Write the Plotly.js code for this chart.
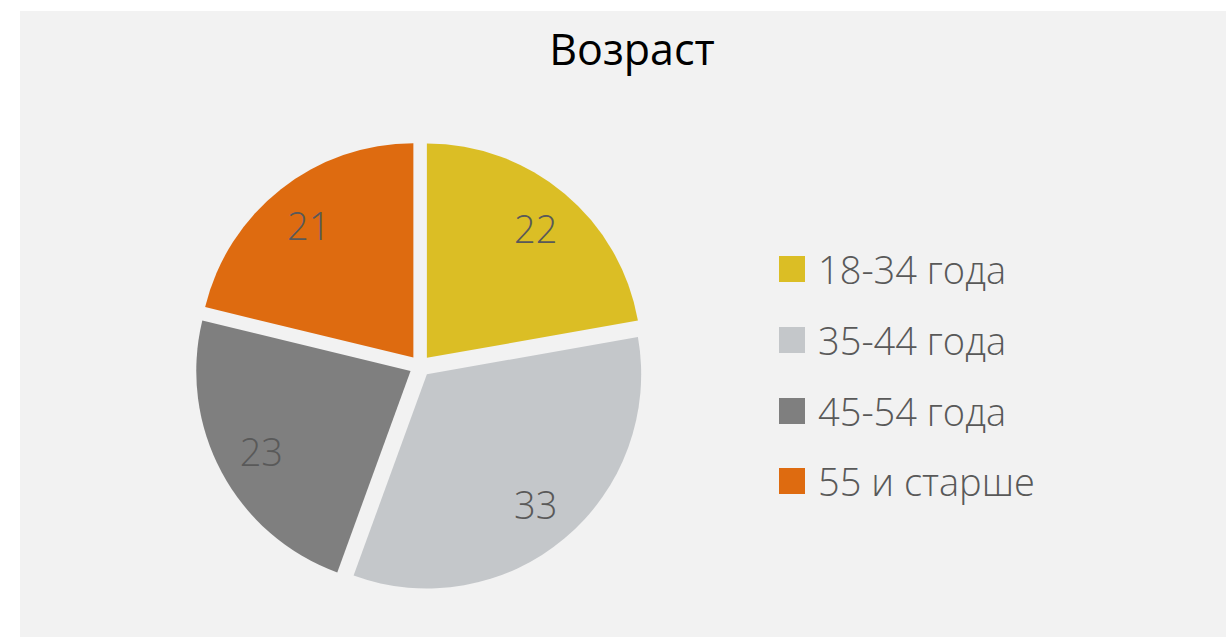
<!DOCTYPE html>
<html>
<head>
<meta charset="utf-8">
<script src="https://cdn.plot.ly/plotly-3.0.1.min.js"></script>
<style>
  html, body { margin: 0; padding: 0; background: #ffffff; width: 1226px; height: 637px; overflow: hidden; }
  #chart { position: absolute; left: 20px; top: 11px; width: 1206px; height: 626px; }
</style>
</head>
<body>
<div id="chart"></div>
<script>
const chartTitle = "Возраст";
const categories = ["18-34 года", "35-44 года", "45-54 года", "55 и старше"];
const values = [22, 33, 23, 21];
const colors = ["#dbbe25", "#c4c7ca", "#7f7f7f", "#de6b10"];

const W = 1206, H = 626;
const FONT = "'Open Sans', 'Liberation Sans', sans-serif";
const TEXT_COLOR = "#595959";

// pie geometry (pixels inside the chart div)
const cx = 400, cy = 355, halfSize = 225;

// manual legend geometry (pixels inside the chart div)
const legSqX0 = 759, legSqSize = 26, legTextX = 796;
const legRowY = [258, 329, 400, 470];

const px2x = p => p / W;
const px2y = p => 1 - p / H;

const shapes = [];
const annotations = [];
categories.forEach((c, i) => {
  shapes.push({
    type: "rect", xref: "paper", yref: "paper",
    x0: px2x(legSqX0), x1: px2x(legSqX0 + legSqSize),
    y0: px2y(legRowY[i] + legSqSize / 2), y1: px2y(legRowY[i] - legSqSize / 2),
    fillcolor: colors[i], line: { width: 0 }
  });
  annotations.push({
    xref: "paper", yref: "paper", x: px2x(legTextX), y: px2y(legRowY[i]),
    xanchor: "left", yanchor: "middle", showarrow: false,
    text: c, font: { family: FONT, size: 38, weight: 300, color: TEXT_COLOR }
  });
});

const domain = {
  x: [px2x(cx - halfSize), px2x(cx + halfSize)],
  y: [px2y(cy + halfSize), px2y(cy - halfSize)]
};

// visible slices
const pieTrace = {
  type: "pie",
  labels: categories,
  values: values,
  sort: false,
  direction: "clockwise",
  rotation: 0,
  pull: [0.05, 0.05, 0.05, 0.05],
  marker: { colors: colors, line: { width: 0 } },
  textinfo: "none",
  hoverinfo: "label+value",
  domain: domain,
  showlegend: false
};

// transparent ring carrying the value labels further out, as in the original
const labelTrace = {
  type: "pie",
  labels: categories,
  values: values,
  sort: false,
  direction: "clockwise",
  rotation: 0,
  hole: 0.6,
  marker: { colors: categories.map(() => "rgba(0,0,0,0)"), line: { width: 0 } },
  textinfo: "value",
  textposition: "inside",
  insidetextorientation: "horizontal",
  textfont: { family: FONT, size: 38, weight: 300, color: TEXT_COLOR },
  hoverinfo: "skip",
  domain: domain,
  showlegend: false
};

const layout = {
  width: W, height: H,
  margin: { l: 0, r: 0, t: 0, b: 0 },
  paper_bgcolor: "#f2f2f2",
  plot_bgcolor: "#f2f2f2",
  title: {
    text: chartTitle,
    x: 612 / W, xanchor: "center", xref: "paper",
    y: 1 - 39 / H, yanchor: "middle", yref: "container",
    font: { family: FONT, size: 43, color: "#000000" }
  },
  showlegend: false,
  shapes: shapes,
  annotations: annotations
};

Plotly.newPlot("chart", [pieTrace, labelTrace], layout, { displayModeBar: false, staticPlot: true });
</script>
</body>
</html>
